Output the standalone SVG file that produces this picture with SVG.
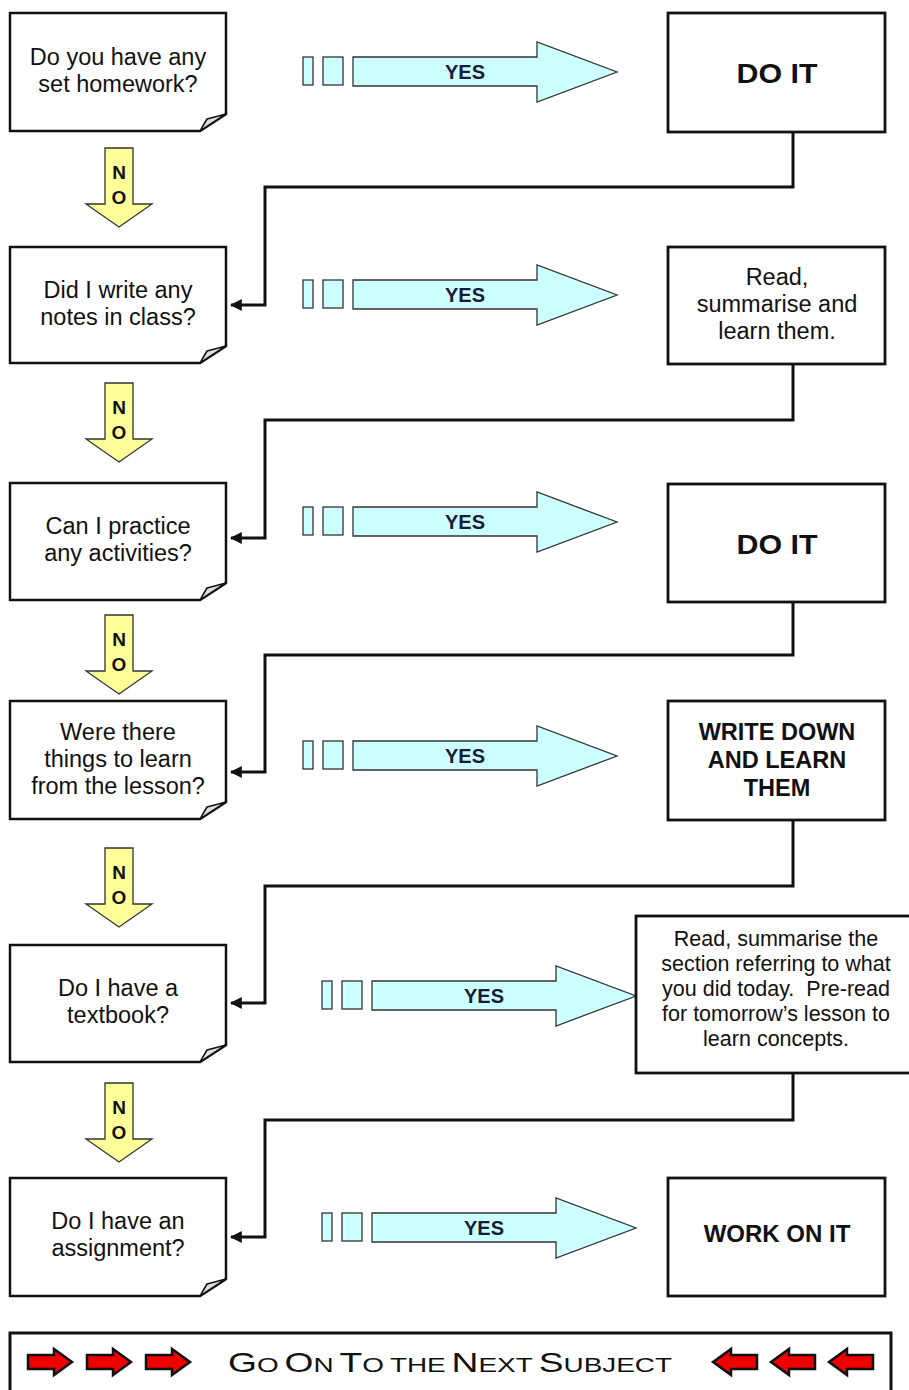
<svg xmlns="http://www.w3.org/2000/svg" xmlns:xlink="http://www.w3.org/1999/xlink" width="909" height="1390" viewBox="0 0 909 1390">
<style>
text{font-family:"Liberation Sans",Arial,sans-serif;fill:#111;text-anchor:middle}
.q{font-size:23.5px}
.b{font-weight:bold}
.page{fill:#fff;stroke:#111;stroke-width:2.5;stroke-linejoin:miter}
.fold{fill:#ddd;stroke:#111;stroke-width:1.5;stroke-linejoin:round}
.box{fill:#fff;stroke:#111;stroke-width:2.8}
.conn{fill:none;stroke:#111;stroke-width:3}
.yes{fill:#ccffff;stroke:#333;stroke-width:1.3}
.no{fill:#ffff99;stroke:#333;stroke-width:1.3}
.red{fill:#ee0000;stroke:#111;stroke-width:2.5;stroke-linejoin:miter}
.yt{font-size:20px;font-weight:bold;fill:#1a1a3a}
.nt{font-size:19px;font-weight:bold}
.big{font-size:28px}
.sm{font-size:21px}
</style>
<defs>
<marker id="ah" viewBox="0 0 10 10" refX="9" refY="5" markerWidth="4" markerHeight="4" orient="auto" markerUnits="strokeWidth">
<path d="M0,0 L10,5 L0,10 Z" fill="#111"/>
</marker>
<g id="yesArrow">
<rect class="yes" x="303" y="-15" width="10" height="28"/>
<rect class="yes" x="323" y="-15" width="20" height="28"/>
<path class="yes" d="M353,-15 H537 V-30 L617,0 L537,30 V14 H353 Z"/>
<text class="yt" x="465" y="7">YES</text>
</g>
<g id="noArrow">
<path class="no" d="M105,0 H133 V56 H152 L119,79 L86,56 H105 Z"/>
<text class="nt" x="119" y="31">N</text>
<text class="nt" x="119" y="56">O</text>
</g>
<path id="rArrow" d="M0,-7 H26 V-13 L44,0 L26,13 V7 H0 Z"/>
</defs>
<rect width="909" height="1390" fill="#fff"/>

<g id="connectors">
<path class="conn" d="M793,132 V187 H265 V305 H231" marker-end="url(#ah)"/>
<path class="conn" d="M793,364 V420 H265 V538 H231" marker-end="url(#ah)"/>
<path class="conn" d="M793,602 V655 H265 V772 H231" marker-end="url(#ah)"/>
<path class="conn" d="M793,820 V886 H265 V1003 H231" marker-end="url(#ah)"/>
<path class="conn" d="M793,1073 V1120 H265 V1237 H231" marker-end="url(#ah)"/>
<use xlink:href="#yesArrow" transform="translate(0,72)"/>
<use xlink:href="#yesArrow" transform="translate(0,295)"/>
<use xlink:href="#yesArrow" transform="translate(0,522)"/>
<use xlink:href="#yesArrow" transform="translate(0,756)"/>
<use xlink:href="#yesArrow" transform="translate(19,996)"/>
<use xlink:href="#yesArrow" transform="translate(19,1228)"/>
<use xlink:href="#noArrow" transform="translate(0,148)"/>
<use xlink:href="#noArrow" transform="translate(0,383)"/>
<use xlink:href="#noArrow" transform="translate(0,615)"/>
<use xlink:href="#noArrow" transform="translate(0,848)"/>
<use xlink:href="#noArrow" transform="translate(0,1083)"/>
</g>

<g id="q1">
<path class="page" d="M10,13 H226 V114 L200,131 H10 Z"/>
<path class="fold" d="M226,114 L207,119 Q204,124 200,131 Z"/>
<text class="q" x="118" y="65">Do you have any</text>
<text class="q" x="118" y="92">set homework?</text>
</g>
<g id="q2">
<path class="page" d="M10,247 H226 V346 L200,363 H10 Z"/>
<path class="fold" d="M226,346 L207,351 Q204,356 200,363 Z"/>
<text class="q" x="118" y="298">Did I write any</text>
<text class="q" x="118" y="325">notes in class?</text>
</g>
<g id="q3">
<path class="page" d="M10,483 H226 V583 L200,600 H10 Z"/>
<path class="fold" d="M226,583 L207,588 Q204,593 200,600 Z"/>
<text class="q" x="118" y="534">Can I practice</text>
<text class="q" x="118" y="561">any activities?</text>
</g>
<g id="q4">
<path class="page" d="M10,701 H226 V802 L200,819 H10 Z"/>
<path class="fold" d="M226,802 L207,807 Q204,812 200,819 Z"/>
<text class="q" x="118" y="740">Were there</text>
<text class="q" x="118" y="767">things to learn</text>
<text class="q" x="118" y="794">from the lesson?</text>
</g>
<g id="q5">
<path class="page" d="M10,945 H226 V1045 L200,1062 H10 Z"/>
<path class="fold" d="M226,1045 L207,1050 Q204,1055 200,1062 Z"/>
<text class="q" x="118" y="996">Do I have a</text>
<text class="q" x="118" y="1023">textbook?</text>
</g>
<g id="q6">
<path class="page" d="M10,1178 H226 V1279 L200,1296 H10 Z"/>
<path class="fold" d="M226,1279 L207,1284 Q204,1289 200,1296 Z"/>
<text class="q" x="118" y="1229">Do I have an</text>
<text class="q" x="118" y="1256">assignment?</text>
</g>

<g id="a1">
<rect class="box" x="668" y="13" width="217" height="119"/>
<text class="b" x="777" y="83" font-size="28" textLength="81" lengthAdjust="spacingAndGlyphs">DO IT</text>
</g>
<g id="a2">
<rect class="box" x="668" y="247" width="217" height="117"/>
<text class="q" x="777" y="285">Read,</text>
<text class="q" x="777" y="312">summarise and</text>
<text class="q" x="777" y="339">learn them.</text>
</g>
<g id="a3">
<rect class="box" x="668" y="484" width="217" height="118"/>
<text class="b" x="777" y="554" font-size="28" textLength="81" lengthAdjust="spacingAndGlyphs">DO IT</text>
</g>
<g id="a4">
<rect class="box" x="668" y="701" width="217" height="119"/>
<text class="b" x="777" y="740" font-size="23.5">WRITE DOWN</text>
<text class="b" x="777" y="768" font-size="23.5">AND LEARN</text>
<text class="b" x="777" y="796" font-size="23.5">THEM</text>
</g>
<g id="a5">
<rect class="box" x="636" y="916" width="280" height="157"/>
<g font-size="21.5">
<text x="776" y="946">Read, summarise the</text>
<text x="776" y="971">section referring to what</text>
<text x="776" y="996" xml:space="preserve">you did today.  Pre-read</text>
<text x="776" y="1021">for tomorrow’s lesson to</text>
<text x="776" y="1046">learn concepts.</text>
</g>
</g>
<g id="a6">
<rect class="box" x="668" y="1178" width="217" height="118"/>
<text class="b" x="777" y="1242" font-size="24">WORK ON IT</text>
</g>

<g id="footer">
<rect x="10" y="1333" width="881" height="70" fill="#fff" stroke="#111" stroke-width="3"/>
<use xlink:href="#rArrow" class="red" transform="translate(28,1362)"/>
<use xlink:href="#rArrow" class="red" transform="translate(87,1362)"/>
<use xlink:href="#rArrow" class="red" transform="translate(146,1362)"/>
<use xlink:href="#rArrow" class="red" transform="translate(757,1362) scale(-1,1)"/>
<use xlink:href="#rArrow" class="red" transform="translate(815,1362) scale(-1,1)"/>
<use xlink:href="#rArrow" class="red" transform="translate(873,1362) scale(-1,1)"/>
<text x="450" y="1372" textLength="444" lengthAdjust="spacingAndGlyphs" fill="#222"><tspan class="big">G</tspan><tspan class="sm">O</tspan> <tspan class="big">O</tspan><tspan class="sm">N</tspan> <tspan class="big">T</tspan><tspan class="sm">O</tspan> <tspan class="sm">THE</tspan> <tspan class="big">N</tspan><tspan class="sm">EXT</tspan> <tspan class="big">S</tspan><tspan class="sm">UBJECT</tspan></text>
</g>
</svg>
